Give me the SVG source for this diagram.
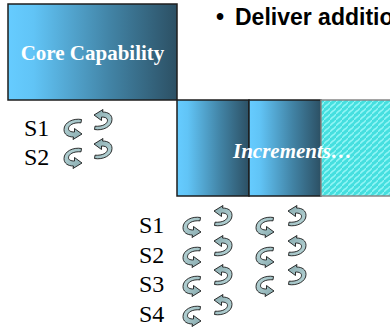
<svg xmlns="http://www.w3.org/2000/svg" xmlns:xlink="http://www.w3.org/1999/xlink" width="390" height="332" viewBox="0 0 390 332">
<defs>
<style>
.box{stroke:#1e1e1e;stroke-width:1.5}
.lbl{font-family:"Liberation Serif","Times New Roman",serif;font-size:24px;fill:#000}
.ttl{font-family:"Liberation Serif","Times New Roman",serif;font-size:21px;font-weight:bold;fill:#fff}
.hdr{font-family:"Liberation Sans",Arial,sans-serif;font-size:23px;font-weight:bold;fill:#000}
.curl{fill:url(#cg);stroke:#1a1a1a;stroke-width:0.9;stroke-linejoin:round}
</style>
<linearGradient id="grad" x1="0" y1="0" x2="1" y2="0">
<stop offset="0" stop-color="#66ccff"/>
<stop offset="0.15" stop-color="#61c4f6"/>
<stop offset="0.6" stop-color="#4284a6"/>
<stop offset="1" stop-color="#2c5064"/>
</linearGradient>
<linearGradient id="cg" x1="0" y1="0" x2="1" y2="1">
<stop offset="0" stop-color="#bcd9db"/>
<stop offset="1" stop-color="#86a9ad"/>
</linearGradient>
<pattern id="tex" width="6" height="6" patternUnits="userSpaceOnUse">
<rect width="6" height="6" fill="#45dfdf"/>
<path d="M0 6 Q1.5 3.8 3 3 T6 0" fill="none" stroke="#90f5f5" stroke-width="1.5"/>
</pattern>
<path id="lc" class="curl" d="M18.5 1.5 C10 0 1 4.5 1 11.5 C1 16.5 5 19 10.5 19 L10 21.5 L19 16 L11.5 10.5 L11.5 14 C8 14 5.5 13 5.5 10.8 C5.5 7 10.5 4.3 18 4.8 Z"/>
<use id="rc" xlink:href="#lc" href="#lc" transform="rotate(180 10 11)"/>
</defs>

<g id="header">
<text class="hdr" x="216" y="25">•</text>
<text class="hdr" x="235" y="25">Deliver additio</text>
</g>

<g id="core">
<rect class="box" x="8" y="4" width="169" height="96" fill="url(#grad)"/>
<text class="ttl" x="92.5" y="60" text-anchor="middle">Core Capability</text>
</g>

<g id="increments">
<rect class="box" x="177" y="100" width="72" height="96" fill="url(#grad)"/>
<rect class="box" x="249" y="100" width="72" height="96" fill="url(#grad)"/>
<rect x="321" y="100" width="72" height="96" fill="url(#tex)" stroke="#888" stroke-width="1.5"/>
<text class="ttl" x="233" y="158" font-style="italic">Increments…</text>
</g>

<g id="core-stages">
<text class="lbl" x="24" y="136">S1</text>
<text class="lbl" x="24" y="165">S2</text>
<use href="#lc" xlink:href="#lc" x="63" y="118"/>
<use href="#rc" xlink:href="#rc" x="93" y="109"/>
<use href="#lc" xlink:href="#lc" x="63" y="147"/>
<use href="#rc" xlink:href="#rc" x="93" y="138"/>
</g>

<g id="increment-stages">
<text class="lbl" x="139" y="233">S1</text>
<text class="lbl" x="139" y="263">S2</text>
<text class="lbl" x="139" y="292">S3</text>
<text class="lbl" x="139" y="322">S4</text>
<use href="#lc" xlink:href="#lc" x="182" y="216"/>
<use href="#rc" xlink:href="#rc" x="213" y="205"/>
<use href="#lc" xlink:href="#lc" x="255" y="216"/>
<use href="#rc" xlink:href="#rc" x="287" y="205"/>
<use href="#lc" xlink:href="#lc" x="182" y="246"/>
<use href="#rc" xlink:href="#rc" x="213" y="235"/>
<use href="#lc" xlink:href="#lc" x="255" y="246"/>
<use href="#rc" xlink:href="#rc" x="287" y="235"/>
<use href="#lc" xlink:href="#lc" x="182" y="275"/>
<use href="#rc" xlink:href="#rc" x="213" y="264"/>
<use href="#lc" xlink:href="#lc" x="255" y="275"/>
<use href="#rc" xlink:href="#rc" x="287" y="264"/>
<use href="#lc" xlink:href="#lc" x="182" y="305"/>
<use href="#rc" xlink:href="#rc" x="213" y="294"/>
</g>

<g id="connectors"/>
</svg>
